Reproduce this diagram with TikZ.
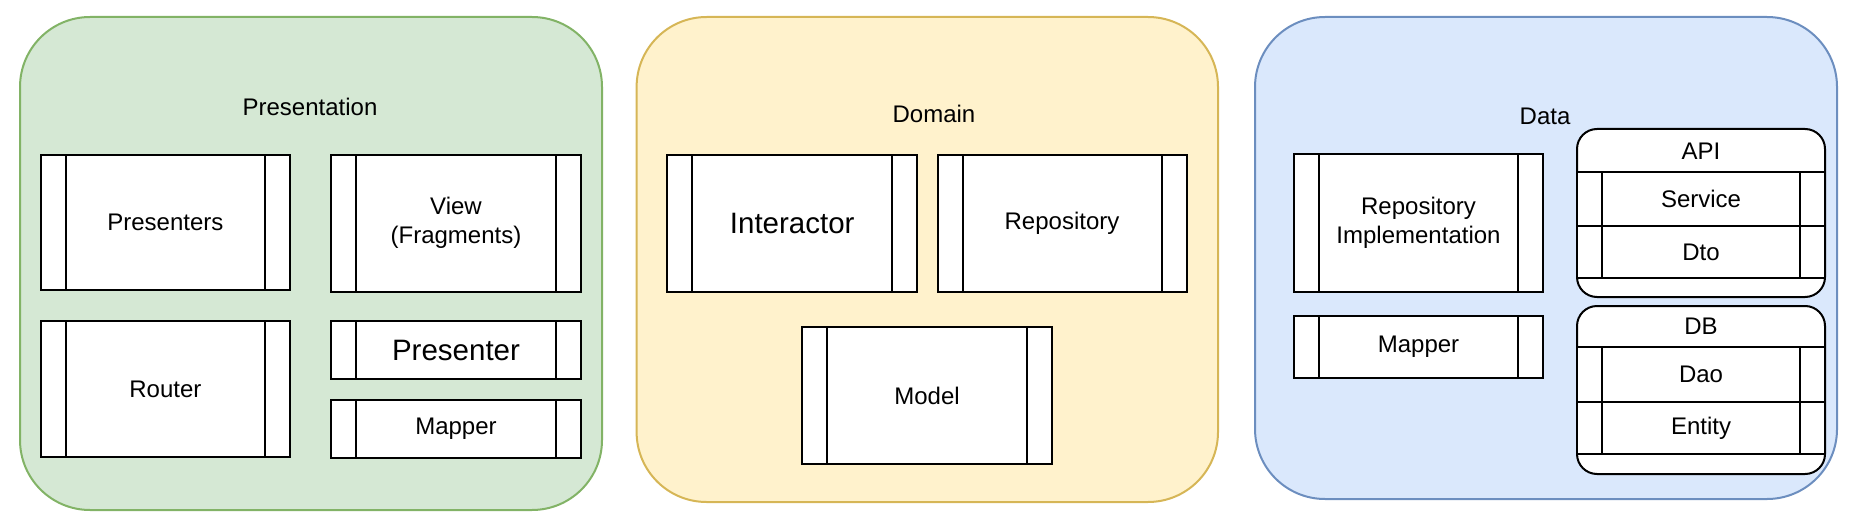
\documentclass[tikz,border=0pt]{standalone}
\usepackage{fontspec}
\setmainfont{Liberation Sans}
\definecolor{pgreenF}{HTML}{D5E8D4}
\definecolor{pgreenD}{HTML}{82B366}
\definecolor{pyellowF}{HTML}{FFF2CC}
\definecolor{pyellowD}{HTML}{D6B656}
\definecolor{pblueF}{HTML}{DAE8FC}
\definecolor{pblueD}{HTML}{6C8EBF}
\tikzset{
  panel/.style={line width=2pt, rounded corners=70pt, inner sep=0pt},
  procbox/.style={draw=black, fill=white, line width=2pt, inner sep=0pt, align=center,
    font=\fontsize{24}{29}\selectfont,
    path picture={\draw[line width=2pt]
      ([xshift=25pt]path picture bounding box.north west) -- ([xshift=25pt]path picture bounding box.south west)
      ([xshift=-25pt]path picture bounding box.north east) -- ([xshift=-25pt]path picture bounding box.south east);}},
  bigtext/.style={font=\fontsize{29.5}{34}\selectfont},
  lbl/.style={font=\fontsize{24}{29}\selectfont, inner sep=0pt},
  holder/.style={draw=black, fill=white, line width=2pt, rounded corners=20pt, inner sep=0pt},
}
\begin{document}
\begin{tikzpicture}[x=1pt, y=-1pt]
\useasboundingbox (0,0) rectangle (1854,524);

% Presentation
\node[panel, draw=pgreenD, fill=pgreenF, minimum width=582pt, minimum height=493pt] (pres) at (311,263.5) {};
\node[lbl] (presl) at (310,107) {Presentation};
\node[procbox, minimum width=249pt, minimum height=135pt] (presenters) at (165.4,222) {Presenters};
\node[procbox, minimum width=250pt, minimum height=137pt] (view) at (456,223) {View\\(Fragments)};
\node[procbox, minimum width=249pt, minimum height=136.5pt] (router) at (165.4,389.2) {Router};
\node[procbox, bigtext, minimum width=250pt, minimum height=58pt] (presenter) at (456,350) {Presenter};
\node[procbox, minimum width=250pt, minimum height=58pt] (pmapper) at (456,428.6) {Mapper};

% Domain
\node[panel, draw=pyellowD, fill=pyellowF, minimum width=581.4pt, minimum height=485pt] (dom) at (927.3,259.5) {};
\node[lbl] (doml) at (934,114) {Domain};
\node[procbox, bigtext, minimum width=249.5pt, minimum height=137pt] (interactor) at (792.2,223) {Interactor};
\node[procbox, minimum width=249pt, minimum height=137pt] (repo) at (1062,223) {Repository};
\node[procbox, minimum width=249.5pt, minimum height=137pt] (model) at (927,395.5) {Model};

% Data
\node[panel, draw=pblueD, fill=pblueF, minimum width=582pt, minimum height=482pt] (data) at (1546,258) {};
\node[lbl] (datal) at (1545,116) {Data};
\node[procbox, minimum width=249pt, minimum height=137.5pt] (repoimpl) at (1418.5,223) {Repository\\Implementation};
\node[procbox, minimum width=249pt, minimum height=61.5pt] (dmapper) at (1418.5,347) {Mapper};

\node[holder, minimum width=248pt, minimum height=168pt] (api) at (1701,213) {};
\node[lbl] (apil) at (1701,151) {API};
\node[procbox, minimum width=248pt, minimum height=54pt] (service) at (1701,199) {Service};
\node[procbox, minimum width=248pt, minimum height=52pt] (dto) at (1701,252) {Dto};

\node[holder, minimum width=248pt, minimum height=168pt] (db) at (1701,390) {};
\node[lbl] (dbl) at (1701,326.5) {DB};
\node[procbox, minimum width=248pt, minimum height=55pt] (dao) at (1701,374.5) {Dao};
\node[procbox, minimum width=248pt, minimum height=52pt] (entity) at (1701,428) {Entity};
\end{tikzpicture}
\end{document}
